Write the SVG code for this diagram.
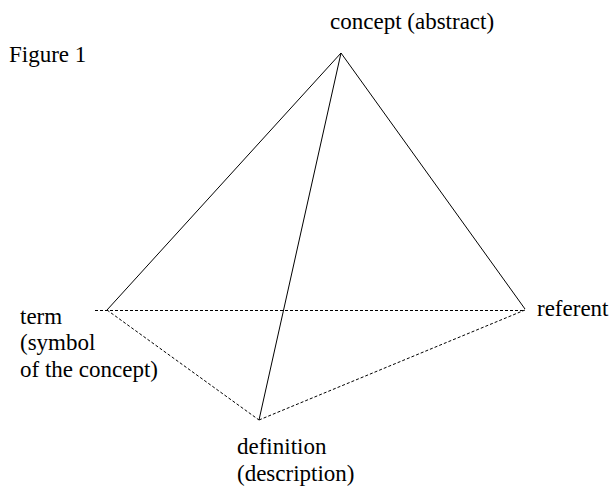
<svg xmlns="http://www.w3.org/2000/svg" width="612" height="492" viewBox="0 0 612 492">
<style>
text { font-family: "Liberation Serif", "Times New Roman", serif; font-size: 23px; fill: #000; }
.solid { stroke: #000; stroke-width: 1; fill: none; }
.dash { stroke: #000; stroke-width: 1; fill: none; stroke-dasharray: 3 2; }
</style>
<rect width="612" height="492" fill="#fff"/>
<text id="figure-label" x="9" y="62">Figure 1</text>
<g id="connectors">
<line class="solid" x1="341" y1="53" x2="107" y2="310"/>
<line class="solid" x1="341" y1="53" x2="525" y2="309"/>
<line class="solid" x1="341" y1="53" x2="259" y2="420"/>
<line class="dash" x1="95" y1="310.5" x2="525" y2="310.5"/>
<line class="dash" x1="107" y1="310" x2="259" y2="420"/>
<line class="dash" x1="259" y1="420" x2="525" y2="310"/>
</g>
<g id="concept"><text x="330" y="29">concept (abstract)</text></g>
<g id="term"><text x="20" y="324">term</text><text x="20" y="350">(symbol</text><text x="20" y="377">of the concept)</text></g>
<g id="referent"><text x="537" y="316">referent</text></g>
<g id="definition"><text x="237" y="454">definition</text><text x="237" y="481">(description)</text></g>
</svg>
